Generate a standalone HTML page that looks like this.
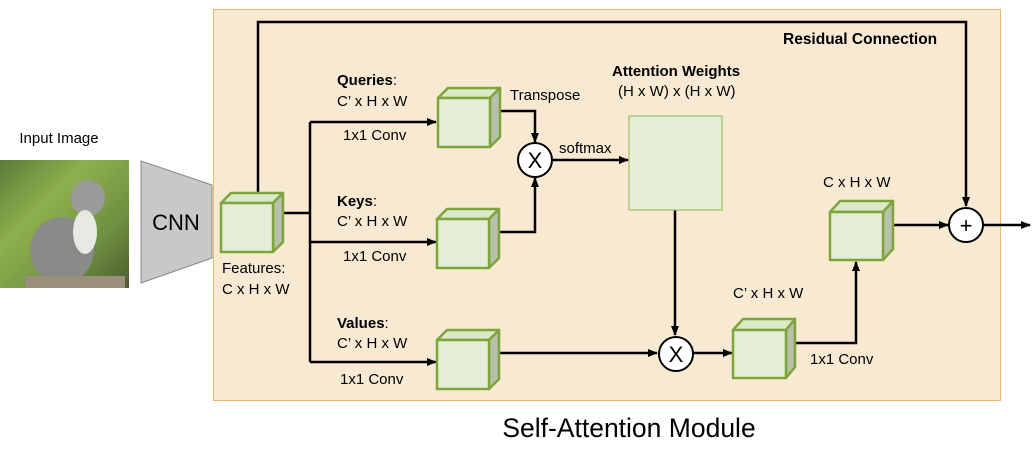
<!DOCTYPE html>
<html><head><style>
body{margin:0;background:#fff;}
svg{display:block;font-family:"Liberation Sans",Arial,sans-serif;}
</style></head><body>
<svg width="1034" height="459" viewBox="0 0 1034 459">
<defs>
<marker id="a" markerWidth="10" markerHeight="10" refX="9" refY="5" orient="auto" markerUnits="userSpaceOnUse"><path d="M0,1 L10,5 L0,9 Z" fill="#000"/></marker>
<linearGradient id="g1" x1="0" y1="0" x2="1" y2="1"><stop offset="0" stop-color="#5d7a3a"/><stop offset=".35" stop-color="#8fb04e"/><stop offset=".7" stop-color="#6f8f42"/><stop offset="1" stop-color="#4a5e2c"/></linearGradient>
</defs>
<rect x="213.5" y="9.5" width="787" height="391" fill="#f8e9d3" stroke="#e8b86e" stroke-width="1"/>
<text x="59" y="143" font-size="15" text-anchor="middle">Input Image</text>
<rect x="0" y="160" width="129" height="128" fill="url(#g1)"/>
<ellipse cx="62" cy="250" rx="32" ry="33" fill="#8a8a88"/>
<ellipse cx="88" cy="198" rx="17" ry="18" fill="#9a9a98"/>
<ellipse cx="85" cy="232" rx="12" ry="22" fill="#e8e8e4"/>
<rect x="25" y="276" width="100" height="12" fill="#9a8f7a"/>
<polygon points="141,161 212,185 212,258 141,283" fill="#c8c8c8" stroke="#888" stroke-width="1"/>
<text x="176" y="230" font-size="22" text-anchor="middle">CNN</text>
<g stroke="#000" stroke-width="2.5" fill="none">
<polyline points="258,192 258,22 966,22 966,206" marker-end="url(#a)"/>
<line x1="284" y1="213" x2="310" y2="213"/>
<line x1="310" y1="122" x2="310" y2="362"/>
<line x1="310" y1="122" x2="436" y2="122" marker-end="url(#a)"/>
<line x1="310" y1="242" x2="436" y2="242" marker-end="url(#a)"/>
<line x1="310" y1="362" x2="436" y2="362" marker-end="url(#a)"/>
<polyline points="500,111 535,111 535,142" marker-end="url(#a)"/>
<polyline points="500,232 535,232 535,178" marker-end="url(#a)"/>
<line x1="552" y1="160" x2="628" y2="160" marker-end="url(#a)"/>
<line x1="675" y1="210" x2="675" y2="335" marker-end="url(#a)"/>
<line x1="500" y1="353" x2="657" y2="353" marker-end="url(#a)"/>
<line x1="693" y1="353" x2="732" y2="353" marker-end="url(#a)"/>
<polyline points="796,343 856,343 856,262" marker-end="url(#a)"/>
<line x1="893" y1="225" x2="948" y2="225" marker-end="url(#a)"/>
<line x1="983" y1="225" x2="1030" y2="225" marker-end="url(#a)"/>
</g>
<g stroke="#7ea53a" stroke-width="2.5" stroke-linejoin="round">
<polygon points="221,203 231,193 283,193 273,203" fill="#dbe9c9"/><polygon points="273,203 283,193 283,242 273,252" fill="#b7c0a8"/><rect x="221" y="203" width="52" height="49" fill="#e4eed6"/>
<polygon points="438,98 448,88 500,88 490,98" fill="#dbe9c9"/><polygon points="490,98 500,88 500,137 490,147" fill="#b7c0a8"/><rect x="438" y="98" width="52" height="49" fill="#e4eed6"/>
<polygon points="437,219 447,209 499,209 489,219" fill="#dbe9c9"/><polygon points="489,219 499,209 499,258 489,268" fill="#b7c0a8"/><rect x="437" y="219" width="52" height="49" fill="#e4eed6"/>
<polygon points="437,340 447,330 499,330 489,340" fill="#dbe9c9"/><polygon points="489,340 499,330 499,379 489,389" fill="#b7c0a8"/><rect x="437" y="340" width="52" height="49" fill="#e4eed6"/>
<polygon points="733,330 743,319 795,319 786,330" fill="#dbe9c9"/><polygon points="786,330 795,319 795,367 786,378" fill="#b7c0a8"/><rect x="733" y="330" width="53" height="48" fill="#e4eed6"/>
<polygon points="830,212 840,201 893,201 883,212" fill="#dbe9c9"/><polygon points="883,212 893,201 893,249 883,260" fill="#b7c0a8"/><rect x="830" y="212" width="53" height="48" fill="#e4eed6"/>
</g>
<rect x="629" y="116" width="93" height="94" fill="#e4eed6" stroke="#9cbf6a" stroke-width="1.2"/>
<g stroke="#000" stroke-width="2" fill="#fff">
<circle cx="535" cy="160" r="17"/><circle cx="676" cy="354" r="17"/><circle cx="966" cy="225" r="17"/>
</g>
<g font-size="22" text-anchor="middle"><text x="535" y="168">X</text><text x="676" y="362">X</text><text x="966" y="233">+</text></g>
<g font-size="15">
<text x="337" y="85"><tspan font-weight="bold">Queries</tspan>:</text>
<text x="337" y="106">C’ x H x W</text>
<text x="343" y="140">1x1 Conv</text>
<text x="337" y="206"><tspan font-weight="bold">Keys</tspan>:</text>
<text x="337" y="226">C’ x H x W</text>
<text x="343" y="261">1x1 Conv</text>
<text x="337" y="328"><tspan font-weight="bold">Values</tspan>:</text>
<text x="337" y="348">C’ x H x W</text>
<text x="340" y="384">1x1 Conv</text>
<text x="222" y="273">Features:</text>
<text x="222" y="294">C x H x W</text>
<text x="510" y="100">Transpose</text>
<text x="559" y="153">softmax</text>
<text x="612" y="76" font-weight="bold">Attention Weights</text>
<text x="618" y="96">(H x W) x (H x W)</text>
<text x="733" y="298">C’ x H x W</text>
<text x="823" y="187">C x H x W</text>
<text x="810" y="364">1x1 Conv</text>
<text x="783" y="44" font-weight="bold" font-size="15.5">Residual Connection</text>
</g>
<text x="629" y="437" font-size="26.5" text-anchor="middle">Self-Attention Module</text>
</svg>
</body></html>
